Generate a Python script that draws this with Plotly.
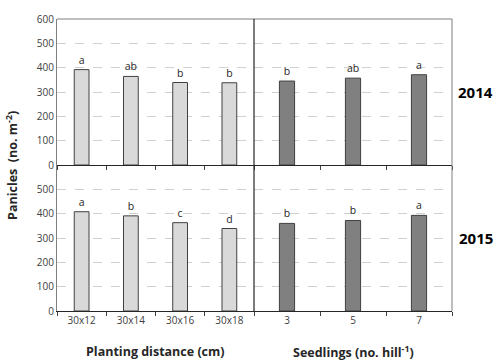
import plotly.graph_objects as go

spacing = ["30x12", "30x14", "30x16", "30x18"]
seedlings = ["3", "5", "7"]

sp_2014 = [392, 364, 339, 338]
sp_2014_letters = ["a", "ab", "b", "b"]
sd_2014 = [345, 357, 371]
sd_2014_letters = ["b", "ab", "a"]

sp_2015 = [408, 391, 363, 339]
sp_2015_letters = ["a", "b", "c", "d"]
sd_2015 = [360, 372, 393]
sd_2015_letters = ["b", "b", "a"]

FONT = "Open Sans"
light = "#d9d9d9"
dark = "#808080"
edge = "#404040"

fig = go.Figure()

def add_bar(x, y, letters, color, width, xa, ya):
    lf = dict(size=10.5, color="#262626", family=FONT)
    fig.add_trace(go.Bar(
        x=x, y=y, text=letters, textposition="outside",
        textfont=lf, outsidetextfont=lf,
        marker=dict(color=color, line=dict(color=edge, width=1)),
        width=width, xaxis=xa, yaxis=ya, showlegend=False, cliponaxis=False,
    ))

add_bar(spacing, sp_2014, sp_2014_letters, light, 0.3, "x", "y")
add_bar(seedlings, sd_2014, sd_2014_letters, dark, 0.23, "x2", "y2")
add_bar(spacing, sp_2015, sp_2015_letters, light, 0.3, "x3", "y3")
add_bar(seedlings, sd_2015, sd_2015_letters, dark, 0.23, "x4", "y4")

split = 197 / 395
tickfont = dict(size=10, color="#404040", family=FONT)

xcommon = dict(type="category", tickson="boundaries", ticks="outside", ticklen=4,
               tickcolor=edge, showline=True, linecolor="#262626", linewidth=1,
               showgrid=False, tickfont=tickfont, fixedrange=True)
ycommon = dict(range=[0, 600], showgrid=True, gridcolor="#d0d0d0", griddash="dash",
               gridwidth=1, zeroline=False, tickfont=tickfont, ticks="",
               fixedrange=True)

fig.update_layout(
    width=499, height=360,
    margin=dict(l=57, r=47, t=11, b=49),
    paper_bgcolor="white", plot_bgcolor="white",
    font=dict(family=FONT, color="#262626"),
    xaxis=dict(domain=[0, split], anchor="y", showticklabels=False, **xcommon),
    xaxis2=dict(domain=[split, 1], anchor="y2", showticklabels=False, **xcommon),
    xaxis3=dict(domain=[0, split], anchor="y3", **xcommon),
    xaxis4=dict(domain=[split, 1], anchor="y4", **xcommon),
    yaxis=dict(domain=[0.5, 1], anchor="x", tickvals=[0, 100, 200, 300, 400, 500, 600],
               showline=True, linecolor="#7f7f7f", **ycommon),
    yaxis2=dict(domain=[0.5, 1], anchor="x2", showticklabels=False,
                tickvals=[100, 200, 300, 400, 500], showline=False, **ycommon),
    yaxis3=dict(domain=[0, 0.5], anchor="x3", tickvals=[0, 100, 200, 300, 400, 500],
                showline=True, linecolor="#7f7f7f", **ycommon),
    yaxis4=dict(domain=[0, 0.5], anchor="x4", showticklabels=False,
                tickvals=[100, 200, 300, 400, 500], showline=False, **ycommon),
)

fig.add_shape(type="line", xref="paper", yref="paper", x0=0, x1=1, y0=1, y1=1,
              line=dict(color="#7f7f7f", width=1))
fig.add_shape(type="line", xref="paper", yref="paper", x0=1, x1=1, y0=0, y1=1,
              line=dict(color="#7f7f7f", width=1))
fig.add_shape(type="line", xref="paper", yref="paper", x0=split, x1=split, y0=0, y1=1,
              line=dict(color="#262626", width=1.2))

tf = dict(size=12.5, color="#262626", family=FONT)
ann = [
    dict(text="<b>Panicles  (no. m<sup>-2</sup>)</b>", xref="paper", yref="paper",
         x=-0.114, y=0.5, textangle=-90, showarrow=False, font=tf,
         xanchor="center", yanchor="middle"),
    dict(text="<b>Planting distance (cm)</b>", xref="paper", yref="paper",
         x=split / 2, y=-0.14, showarrow=False, font=tf,
         xanchor="center", yanchor="middle"),
    dict(text="<b>Seedlings (no. hill<sup>-1</sup>)</b>", xref="paper", yref="paper",
         x=(split + 1) / 2, y=-0.14, showarrow=False, font=tf,
         xanchor="center", yanchor="middle"),
    dict(text="<b>2014</b>", xref="paper", yref="paper", x=1.06, y=0.75,
         showarrow=False, font=dict(size=15, color="#000", family=FONT),
         xanchor="center", yanchor="middle"),
    dict(text="<b>2015</b>", xref="paper", yref="paper", x=1.06, y=0.25,
         showarrow=False, font=dict(size=15, color="#000", family=FONT),
         xanchor="center", yanchor="middle"),
]
fig.update_layout(annotations=ann)

fig.write_html("out.html")
